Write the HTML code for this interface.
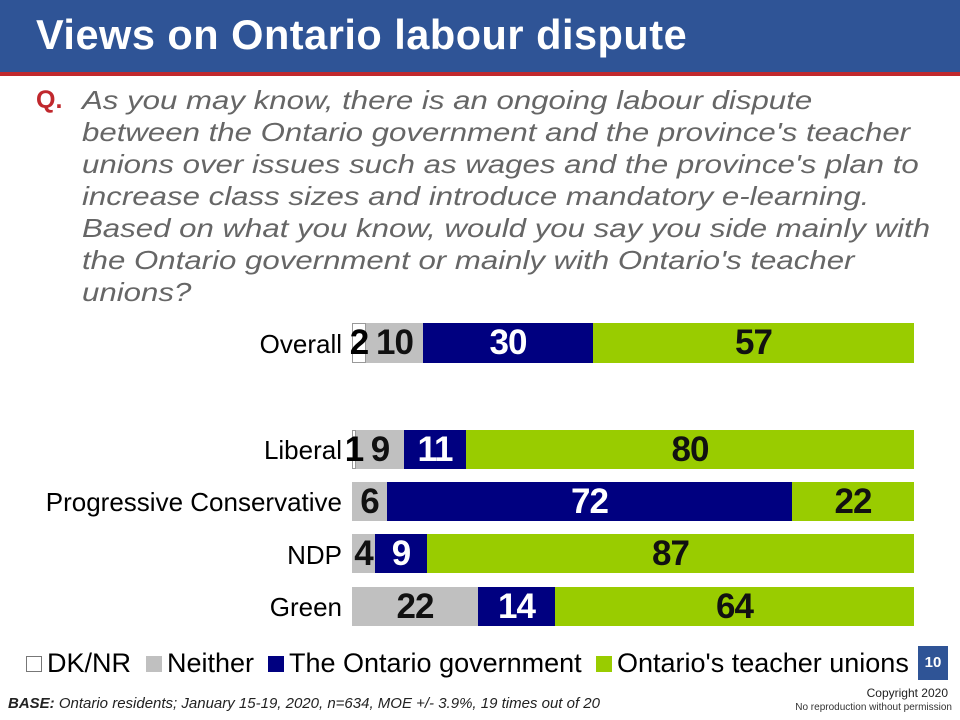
<!DOCTYPE html>
<html><head><meta charset="utf-8"><style>
body{margin:0;width:960px;height:720px;position:relative;background:#fff;font-family:"Liberation Sans",Arial,sans-serif;overflow:hidden}
.a{position:absolute}
.hdr{left:0;top:0;width:960px;height:72px;background:#2f5496}
.red{left:0;top:72px;width:960px;height:4px;background:#c0282d}
.title{left:36px;top:11px;color:#fff;font-weight:bold;font-size:41.5px;letter-spacing:0.5px}
.q{left:36px;top:86px;color:#c0282d;font-weight:bold;font-size:25px}
.qt{left:82px;top:84px;color:#666;font-style:italic;font-size:26px;line-height:32px;white-space:nowrap;transform:scaleX(1.2);transform-origin:0 0}
.s{position:absolute;display:flex;align-items:center;justify-content:center;font-weight:bold;font-size:35px;box-sizing:border-box;letter-spacing:-1px}
.w{background:#fff;border:1px solid #999}
.g{background:#c0c0c0;color:#111}
.b{background:#000080;color:#fff}
.gr{background:#99cc00;color:#111}
.lab{position:absolute;right:618px;font-size:26px;color:#000;text-align:right;white-space:nowrap}
.leg{top:648px;font-size:27px;color:#000;white-space:nowrap}
.sq{display:inline-block;width:16px;height:16px;vertical-align:0px;margin-right:5px}
</style></head><body>
<div class="a hdr"></div><div class="a red"></div>
<div class="a title">Views on Ontario labour dispute</div>
<div class="a q">Q.</div>
<div class="a qt">As you may know, there is an ongoing labour dispute<br>between the Ontario government and the province's teacher<br>unions over issues such as wages and the province's plan to<br>increase class sizes and introduce mandatory e-learning.<br>Based on what you know, would you say you side mainly with<br>the Ontario government or mainly with Ontario's teacher<br>unions?</div>

<div class="lab" style="top:329px">Overall</div>
<div class="s w" style="left:352px;top:323px;width:14px;height:40px"></div>
<div class="s" style="left:346px;top:323px;width:26px;height:40px;color:#000;z-index:2">2</div>
<div class="s g" style="left:366px;top:323px;width:57px;height:40px">10</div>
<div class="s b" style="left:423px;top:323px;width:170px;height:40px">30</div>
<div class="s gr" style="left:593px;top:323px;width:321px;height:40px">57</div>

<div class="lab" style="top:435px">Liberal</div>
<div class="s w" style="left:352px;top:430px;width:4px;height:39px"></div>
<div class="s" style="left:346px;top:430px;width:16px;height:39px;color:#000;z-index:2">1</div>
<div class="s g" style="left:356px;top:430px;width:48px;height:39px">9</div>
<div class="s b" style="left:404px;top:430px;width:62px;height:39px">11</div>
<div class="s gr" style="left:466px;top:430px;width:448px;height:39px">80</div>

<div class="lab" style="top:487px">Progressive Conservative</div>
<div class="s g" style="left:352px;top:482px;width:35px;height:39px">6</div>
<div class="s b" style="left:387px;top:482px;width:405px;height:39px">72</div>
<div class="s gr" style="left:792px;top:482px;width:122px;height:39px">22</div>

<div class="lab" style="top:540px">NDP</div>
<div class="s g" style="left:352px;top:534px;width:23px;height:39px">4</div>
<div class="s b" style="left:375px;top:534px;width:52px;height:39px">9</div>
<div class="s gr" style="left:427px;top:534px;width:487px;height:39px">87</div>

<div class="lab" style="top:592px">Green</div>
<div class="s g" style="left:352px;top:587px;width:126px;height:39px">22</div>
<div class="s b" style="left:478px;top:587px;width:77px;height:39px">14</div>
<div class="s gr" style="left:555px;top:587px;width:359px;height:39px">64</div>

<div class="a leg" style="left:26px"><span class="sq" style="border:1px solid #777;width:14px;height:14px"></span>DK/NR</div>
<div class="a leg" style="left:146px"><span class="sq" style="background:#c0c0c0"></span>Neither</div>
<div class="a leg" style="left:268px"><span class="sq" style="background:#000080"></span>The Ontario government</div>
<div class="a leg" style="left:596px"><span class="sq" style="background:#99cc00"></span>Ontario's teacher unions</div>
<div class="a" style="left:918px;top:646px;width:30px;height:34px;background:#2f5496;color:#fff;font-size:15px;font-weight:bold;text-align:center;line-height:34px">10</div>
<div class="a" style="left:8px;top:695px;font-size:15px;font-style:italic;color:#222"><b>BASE:</b> Ontario residents; January 15-19, 2020, n=634, MOE +/- 3.9%, 19 times out of 20</div>
<div class="a" style="right:12px;top:686px;font-size:12px;color:#222;text-align:right">Copyright 2020</div>
<div class="a" style="right:8px;top:702px;font-size:10px;color:#333;text-align:right">No reproduction without permission</div>
</body></html>
